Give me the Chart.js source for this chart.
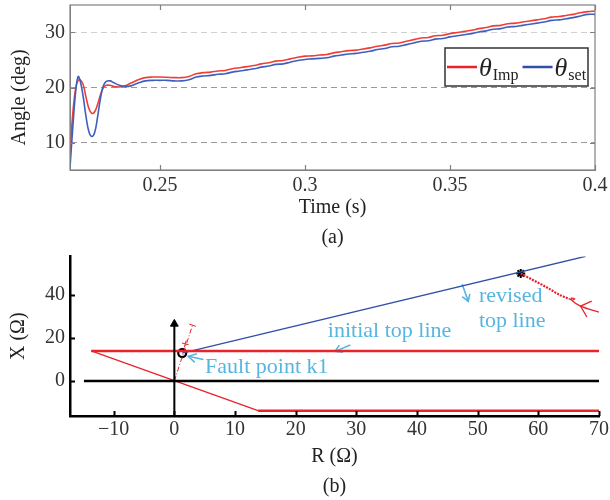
<!DOCTYPE html>
<html>
<head>
<meta charset="utf-8">
<script src="https://cdn.jsdelivr.net/npm/chart.js@4.4.1/dist/chart.umd.min.js"></script>
<style>
  html, body { margin: 0; padding: 0; background: #fff; }
  #contenedor { position: relative; width: 610px; height: 500px; }
  canvas { position: absolute; left: 0; }
</style>
</head>
<body>
<div id="contenedor">
  <canvas id="graficoAngulo" width="610" height="250" style="top:0"></canvas>
  <canvas id="graficoRX" width="610" height="250" style="top:250px"></canvas>
</div>
<script>
// ---- (a) angulos vs tiempo ----
const tiempos = [
  0.219, 0.220, 0.221, 0.2218, 0.2225, 0.2235, 0.2245, 0.2255, 0.2265, 0.2275, 0.2285,
  0.2295, 0.2305, 0.2315, 0.2328, 0.234, 0.236, 0.238, 0.240, 0.2425, 0.245, 0.2475,
  0.25, 0.2525, 0.255, 0.2575, 0.26, 0.2625, 0.265, 0.2675, 0.27, 0.2725,
  0.275, 0.2775, 0.28, 0.2825, 0.285, 0.2875, 0.29, 0.2925, 0.295, 0.2975,
  0.30, 0.3025, 0.305, 0.3075, 0.31, 0.3125, 0.315, 0.3175, 0.32, 0.3225,
  0.325, 0.3275, 0.33, 0.3325, 0.335, 0.3375, 0.34, 0.3425, 0.345, 0.3475,
  0.35, 0.3525, 0.355, 0.3575, 0.36, 0.3625, 0.365, 0.3675, 0.37, 0.3725,
  0.375, 0.3775, 0.38, 0.3825, 0.385, 0.3875, 0.39, 0.3925, 0.395, 0.3975, 0.40
];
const thetaImp = [
  8.1, 15.5, 20.0, 21.3, 21.4, 20.6, 18.3, 16.2, 15.3, 15.6, 16.9,
  18.7, 20.0, 20.4, 20.4, 20.2, 20.1, 20.3, 20.8, 21.4, 21.8, 21.9,
  21.9, 21.85, 21.8, 21.8, 22.0, 22.5, 22.7, 22.8, 23.0, 23.1,
  23.4, 23.6, 23.8, 24.0, 24.3, 24.5, 24.8, 24.9, 25.2, 25.5,
  25.7, 25.75, 25.9, 26.0, 26.3, 26.5, 26.7, 26.8, 27.0, 27.2,
  27.5, 27.7, 28.0, 28.1, 28.4, 28.7, 29.0, 29.1, 29.4, 29.5,
  29.8, 30.0, 30.2, 30.4, 30.7, 30.9, 31.2, 31.3, 31.6, 31.7,
  31.9, 32.1, 32.3, 32.5, 32.8, 32.9, 33.1, 33.3, 33.6, 33.8, 33.9
];
const thetaSet = [
  5.4, 13.0, 19.5, 22.0, 21.2, 18.5, 14.8, 12.0, 11.1, 11.8, 14.6,
  18.0, 20.3, 21.1, 21.2, 20.9, 20.4, 20.2, 20.3, 20.8, 21.2, 21.3,
  21.3, 21.3, 21.2, 21.2, 21.4, 21.9, 22.1, 22.2, 22.4, 22.5,
  22.8, 23.0, 23.2, 23.4, 23.7, 23.9, 24.2, 24.3, 24.6, 24.9,
  25.1, 25.2, 25.3, 25.4, 25.7, 25.9, 26.1, 26.2, 26.4, 26.6,
  26.9, 27.1, 27.4, 27.5, 27.8, 28.1, 28.4, 28.5, 28.8, 28.9,
  29.2, 29.4, 29.6, 29.8, 30.1, 30.3, 30.6, 30.7, 31.0, 31.1,
  31.3, 31.5, 31.7, 31.9, 32.2, 32.3, 32.5, 32.7, 33.0, 33.3, 33.3
];
const ticksTiempo = [0.25, 0.3, 0.35, 0.4];
const ticksAngulo = [10, 20, 30];

// ---- (b) plano R-X ----
const ticksR = [-10, 0, 10, 20, 30, 40, 50, 60, 70];
const ticksX = [0, 20, 40];
const ejeR = [[-14.9, 0], [70, 0]];
const ejeX = [[0, -16.3], [0, 26]];
const puntaEjeX = [[0, 26.6]];
const lineaSuperiorInicial = [[-13.7, 14], [70, 14]];
const lineaDiagonal = [[-13.7, 14], [13.8, -13.8]];
const lineaInferior = [[13.8, -13.8], [70, -13.8]];
const lineaSuperiorRevisada = [[1.3, 13], [67.8, 58.1]];
const lineaPuntoRaya = [[0, 0], [3.0, 26]];
const cruzPuntoRaya = [[1.8, 17.3]];
const finPuntoRaya = [[3.0, 26]];
const trayectoriaPunteada = [[57.1, 50.1], [58.2, 48.4], [59.4, 46.6], [60.5, 45.0], [61.6, 43.3],
  [62.7, 41.4], [63.6, 40.0], [64.4, 39.0], [65.0, 38.4]];
const trayectoriaFinal = [[65.0, 38.4], [65.6, 37.7], [66.0, 38.3], [65.5, 38.6], [65.4, 37.9],
  [66.95, 34.9], [70, 32.1]];
const puntaTrayectoria = [[68.8, 37.2], [66.95, 34.9], [68.0, 29.8]];
const puntoFalla = [[1.3, 13]];
const puntoEstrella = [[57.1, 50.1]];
const flechaFalla = [[4.8, 10.0], [2.3, 11.5]];
const puntaFlechaFalla = [[3.37, 8.7], [2.3, 11.5], [3.72, 12.7]];
const flechaInicial = [[29.0, 16.8], [26.5, 13.8]];
const puntaFlechaInicial = [[27.8, 13.4], [26.5, 13.8], [27.2, 16.7]];
const flechaRevisada = [[47.45, 45.1], [48.45, 37.1]];
const puntaFlechaRevisada = [[48.7, 40.6], [48.45, 37.1], [47.45, 39.3]];

const etiquetas = [
  { texto: 'Fault point k1', r: 5.06, x: 3.7 },
  { texto: 'initial top line', r: 25.3, x: 20.6 },
  { texto: 'revised', r: 50.2, x: 36.7 },
  { texto: 'top line', r: 50.2, x: 25.2 }
];

const FUENTE = '"Liberation Serif", "Times New Roman", serif';
const ROJO = '#ee3f36';
const AZUL = '#3f5fbf';
const ROJO_B = '#e8232a';
const AZUL_B = '#3050a8';
const CELESTE = '#56b6e0';

Chart.defaults.font.family = FUENTE;
Chart.defaults.font.size = 20;
Chart.defaults.color = '#333';

const aPuntos = pares => pares.map(([x, y]) => ({ x, y }));

// quitar el relleno automatico que agrega Chart.js por las etiquetas
function sinRelleno(s) {
  s.paddingTop = 0; s.paddingBottom = 0; s.paddingLeft = 0; s.paddingRight = 0;
}

// Dibuja marcas hacia adentro en los ejes
function marcasInternas(ctx, chart, lados) {
  const { chartArea: a, scales: { x, y } } = chart;
  ctx.beginPath();
  x.ticks.forEach(t => {
    const px = Math.round(x.getPixelForValue(t.value)) + 0.5;
    ctx.moveTo(px, a.bottom); ctx.lineTo(px, a.bottom - 5);
    if (lados === 4) { ctx.moveTo(px, a.top); ctx.lineTo(px, a.top + 5); }
  });
  y.ticks.forEach(t => {
    const py = Math.round(y.getPixelForValue(t.value)) + 0.5;
    ctx.moveTo(a.left, py); ctx.lineTo(a.left + 5, py);
    if (lados === 4) { ctx.moveTo(a.right, py); ctx.lineTo(a.right - 5, py); }
  });
  ctx.stroke();
}

const marcoAngulo = {
  id: 'marcoAngulo',
  afterDraw(chart) {
    const { ctx, chartArea: a } = chart;
    ctx.save();
    ctx.strokeStyle = '#808080';
    ctx.lineWidth = 1.2;
    ctx.strokeRect(a.left, a.top, a.right - a.left, a.bottom - a.top);
    marcasInternas(ctx, chart, 4);

    // Leyenda con subindices
    const lx = a.right - 150, ly = a.top + 43, ancho = 143, alto = 38;
    ctx.fillStyle = '#fff';
    ctx.fillRect(lx, ly, ancho, alto);
    ctx.strokeStyle = '#333';
    ctx.lineWidth = 1.5;
    ctx.strokeRect(lx, ly, ancho, alto);
    let cx = lx + 2;
    chart.data.datasets.slice().reverse().forEach(ds => {
      const [base, sub] = ds.label.split('_');
      ctx.strokeStyle = ds.legendColor;
      ctx.lineWidth = 2.5;
      ctx.beginPath(); ctx.moveTo(cx, ly + 19); ctx.lineTo(cx + 30, ly + 19); ctx.stroke();
      cx += 32;
      ctx.fillStyle = '#222';
      ctx.textBaseline = 'alphabetic';
      ctx.font = 'italic 26px ' + FUENTE;
      ctx.fillText(base, cx, ly + 28);
      cx += ctx.measureText(base).width + 1;
      ctx.font = '16px ' + FUENTE;
      ctx.fillText(sub, cx, ly + 32);
      cx += ctx.measureText(sub).width + 4;
    });
    ctx.restore();
  }
};

new Chart(document.getElementById('graficoAngulo'), {
  type: 'line',
  data: {
    datasets: [
      {
        label: 'θ_set',
        data: tiempos.map((t, i) => ({ x: t, y: thetaSet[i] })),
        borderColor: AZUL, legendColor: '#2f4fa8', borderWidth: 1.6,
        pointRadius: 0, tension: 0.4, fill: false
      },
      {
        label: 'θ_Imp',
        data: tiempos.map((t, i) => ({ x: t, y: thetaImp[i] })),
        borderColor: ROJO, legendColor: '#e8232a', borderWidth: 1.6,
        pointRadius: 0, tension: 0.4, fill: false
      }
    ]
  },
  options: {
    responsive: false,
    animation: false,
    layout: { padding: { left: 0, right: 15, top: 5, bottom: 0 } },
    plugins: { legend: { display: false }, tooltip: { enabled: false } },
    scales: {
      x: {
        type: 'linear', min: 0.219, max: 0.4,
        afterBuildTicks: s => { s.ticks = ticksTiempo.map(v => ({ value: v })); },
        afterFit: s => { s.height = 80; sinRelleno(s); },
        grid: { display: false, drawTicks: false },
        border: { color: '#808080', width: 1 },
        ticks: { padding: 4, maxRotation: 0, callback: v => String(v) },
        title: {
          display: true, text: ['Time (s)', '(a)'], color: '#222',
          font: { size: 20, lineHeight: 1.5 }, padding: { top: 0, bottom: -3 }
        }
      },
      y: {
        min: 5, max: 35,
        afterBuildTicks: s => { s.ticks = ticksAngulo.map(v => ({ value: v })); },
        afterFit: s => { s.width = 70; sinRelleno(s); },
        grid: { color: ctx => ctx.tick && ctx.tick.value === 30 ? '#d0d0d0' : '#9a9a9a', drawTicks: false },
        border: { color: '#808080', width: 1, dash: [6, 4] },
        ticks: { padding: 5 },
        title: {
          display: true, text: 'Angle (deg)    ', color: '#222',
          font: { size: 20, lineHeight: 1.2 }, padding: { top: 8, bottom: 0 }
        }
      }
    }
  },
  plugins: [marcoAngulo]
});

// ---- grafico (b) ----
function linea(pares, color, ancho, extra) {
  return Object.assign({
    data: aPuntos(pares), showLine: true, borderColor: color, backgroundColor: color,
    borderWidth: ancho, pointRadius: 0, tension: 0
  }, extra || {});
}

const anotacionesRX = {
  id: 'anotacionesRX',
  afterDraw(chart) {
    const { ctx, scales: { x, y } } = chart;
    ctx.save();
    ctx.strokeStyle = '#000';
    ctx.lineWidth = 2;
    marcasInternas(ctx, chart, 2);
    ctx.fillStyle = CELESTE;
    ctx.font = '22px ' + FUENTE;
    ctx.textBaseline = 'alphabetic';
    etiquetas.forEach(e => ctx.fillText(e.texto, x.getPixelForValue(e.r), y.getPixelForValue(e.x)));
    ctx.restore();
  }
};

new Chart(document.getElementById('graficoRX'), {
  type: 'scatter',
  data: {
    datasets: [
      linea(ejeR, '#000', 2.5),
      linea(ejeX, '#000', 2),
      { data: aPuntos(puntaEjeX), pointStyle: 'triangle', pointRadius: 4.5, backgroundColor: '#000', borderColor: '#000', borderWidth: 1 },
      linea(lineaSuperiorInicial, ROJO_B, 2.5),
      linea(lineaDiagonal, ROJO_B, 1.3),
      linea(lineaInferior, ROJO_B, 2.5),
      linea(lineaSuperiorRevisada, AZUL_B, 1.3),
      linea(lineaPuntoRaya, ROJO_B, 1, { borderDash: [5, 2, 1, 2] }),
      { data: aPuntos(cruzPuntoRaya), pointStyle: 'cross', pointRadius: 3.5, rotation: 15, borderColor: ROJO_B, borderWidth: 1 },
      { data: aPuntos(finPuntoRaya), pointStyle: 'line', pointRadius: 3.5, rotation: 18, borderColor: ROJO_B, borderWidth: 1 },
      linea(trayectoriaPunteada, ROJO_B, 2.2, { borderDash: [2, 1.2] }),
      linea(trayectoriaFinal, ROJO_B, 1.3, { tension: 0.3 }),
      linea(puntaTrayectoria, ROJO_B, 1.3),
      linea(flechaFalla, CELESTE, 1.6),
      linea(puntaFlechaFalla, CELESTE, 1.6),
      linea(flechaInicial, CELESTE, 1.6),
      linea(puntaFlechaInicial, CELESTE, 1.6),
      linea(flechaRevisada, CELESTE, 1.6),
      linea(puntaFlechaRevisada, CELESTE, 1.6),
      { data: aPuntos(puntoEstrella), pointStyle: 'star', pointRadius: 4.5, borderColor: '#000', borderWidth: 2 },
      { data: aPuntos(puntoFalla), pointStyle: 'circle', pointRadius: 4, borderColor: '#000', backgroundColor: '#fff', borderWidth: 2.2 }
    ]
  },
  options: {
    responsive: false,
    animation: false,
    layout: { padding: { left: 0, right: 11, top: 3, bottom: 0 } },
    plugins: { legend: { display: false }, tooltip: { enabled: false } },
    scales: {
      x: {
        type: 'linear', min: -17.2, max: 70,
        afterBuildTicks: s => { s.ticks = ticksR.map(v => ({ value: v })); },
        afterFit: s => { s.height = 84; sinRelleno(s); },
        grid: { display: false, drawTicks: false },
        border: { color: '#000', width: 2.5 },
        ticks: { padding: 2, maxRotation: 0, callback: v => v < 0 ? '\u2212' + Math.abs(v) : String(v) },
        title: {
          display: true, text: ['R (\u03a9)', '(b)'], color: '#222',
          font: { size: 20, lineHeight: 1.5 }, padding: { top: 0, bottom: -2 }
        }
      },
      y: {
        type: 'linear', min: -16.3, max: 58,
        afterBuildTicks: s => { s.ticks = ticksX.map(v => ({ value: v })); },
        afterFit: s => { s.width = 70; sinRelleno(s); },
        grid: { display: false, drawTicks: false },
        border: { color: '#000', width: 2.5 },
        ticks: { padding: 5 },
        title: {
          display: true, text: 'X (\u03a9)', color: '#222',
          font: { size: 20, lineHeight: 1.2 }, padding: { top: 7, bottom: 0 }
        }
      }
    }
  },
  plugins: [anotacionesRX]
});
</script>
</body>
</html>
